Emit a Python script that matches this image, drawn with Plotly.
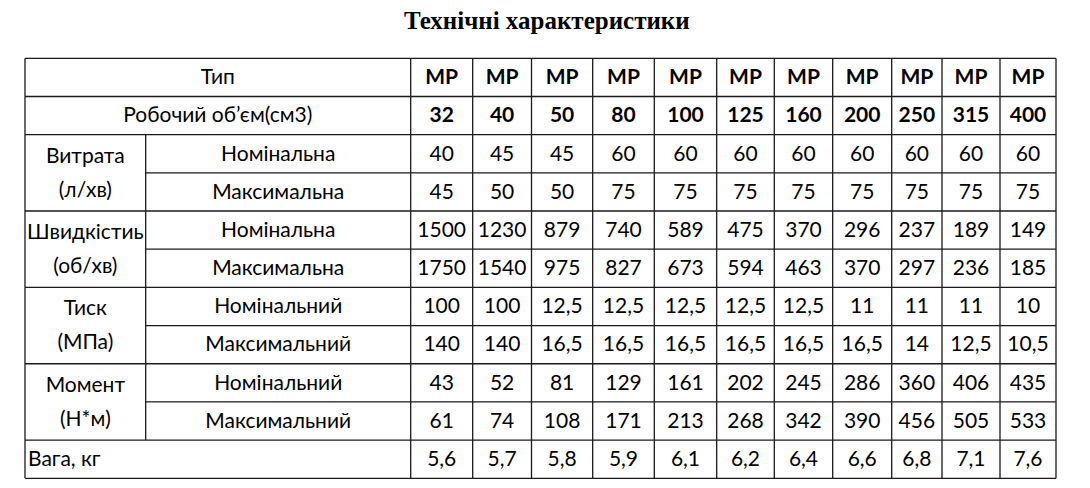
import plotly.graph_objects as go

# Table data

TITLE = "Технічні характеристики"

model_types = ["MP"] * 11
volumes = [32, 40, 50, 80, 100, 125, 160, 200, 250, 315, 400]

flow_nom = [40, 45, 45, 60, 60, 60, 60, 60, 60, 60, 60]
flow_max = [45, 50, 50, 75, 75, 75, 75, 75, 75, 75, 75]

speed_nom = [1500, 1230, 879, 740, 589, 475, 370, 296, 237, 189, 149]
speed_max = [1750, 1540, 975, 827, 673, 594, 463, 370, 297, 236, 185]

pressure_nom = [100, 100, 12.5, 12.5, 12.5, 12.5, 12.5, 11, 11, 11, 10]
pressure_max = [140, 140, 16.5, 16.5, 16.5, 16.5, 16.5, 16.5, 14, 12.5, 10.5]

torque_nom = [43, 52, 81, 129, 161, 202, 245, 286, 360, 406, 435]
torque_max = [61, 74, 108, 171, 213, 268, 342, 390, 456, 505, 533]

weight = [5.6, 5.7, 5.8, 5.9, 6.1, 6.2, 6.4, 6.6, 6.8, 7.1, 7.6]

groups = [
    ("Витрата", "(л/хв)", "Номінальна", "Максимальна", flow_nom, flow_max),
    ("Швидкістиь", "(об/хв)", "Номінальна", "Максимальна", speed_nom, speed_max),
    ("Тиск", "(МПа)", "Номінальний", "Максимальний", pressure_nom, pressure_max),
    ("Момент", "(Н*м)", "Номінальний", "Максимальний", torque_nom, torque_max),
]

# Layout of the grid (pixel coords of the 1090x488 page)

PAGE_W, PAGE_H = 1090, 488
BODY_MARGIN = 8  # default html body margin, figure starts at (8, 8)
col_edges = [25, 145.7, 410.7, 472.7, 531.5, 592.7, 654.3, 716.7,
             774.3, 832.7, 891.7, 942, 1000, 1056]
TOP = 58.3
ROW_H = 38.18
N_ROWS = 11
row_edges = [TOP + i * ROW_H for i in range(N_ROWS + 1)]

FONT = "Lato"
FONT_SIZE = 21
TEXT_NUDGE = 1.5  # text sits a touch low in the source cells
LINE_COLOR = "#1a1a1a"


def fmt(v):
    # decimal comma like the source document
    s = f"{v:g}"
    return s.replace(".", ",")


def row_mid(r):
    return (row_edges[r] + row_edges[r + 1]) / 2 + TEXT_NUDGE


def col_mid(c):
    return (col_edges[c] + col_edges[c + 1]) / 2


data_cols = list(range(2, 2 + len(volumes)))

reg_x, reg_y, reg_t = [], [], []
bold_x, bold_y, bold_t = [], [], []

# header rows
label_mid = (col_edges[0] + col_edges[2]) / 2
reg_x += [label_mid, label_mid]
reg_y += [row_mid(0), row_mid(1)]
reg_t += ["Тип", "Робочий об’єм(см3)"]
for c, t, v in zip(data_cols, model_types, volumes):
    bold_x += [col_mid(c), col_mid(c)]
    bold_y += [row_mid(0), row_mid(1)]
    bold_t += [t, str(v)]

# grouped rows
for g, (name, unit, sub1, sub2, vals1, vals2) in enumerate(groups):
    r1 = 2 + 2 * g
    r2 = r1 + 1
    reg_x += [col_mid(0), col_mid(0), col_mid(1), col_mid(1)]
    reg_y += [row_mid(r1) + 2, row_mid(r2) - 2, row_mid(r1), row_mid(r2)]
    reg_t += [name, unit, sub1, sub2]
    for c, a, b in zip(data_cols, vals1, vals2):
        reg_x += [col_mid(c), col_mid(c)]
        reg_y += [row_mid(r1), row_mid(r2)]
        reg_t += [fmt(a), fmt(b)]

# weight row
for c, v in zip(data_cols, weight):
    reg_x.append(col_mid(c))
    reg_y.append(row_mid(10))
    reg_t.append(fmt(v))

fig = go.Figure()

fig.add_trace(go.Scatter(
    x=reg_x, y=reg_y, text=reg_t, mode="text",
    textposition="middle center",
    textfont=dict(family=FONT, size=FONT_SIZE, color="black"),
    hoverinfo="skip", showlegend=False
))
fig.add_trace(go.Scatter(
    x=bold_x, y=bold_y, text=bold_t, mode="text",
    textposition="middle center",
    textfont=dict(family=FONT, size=FONT_SIZE, color="black", weight="bold"),
    hoverinfo="skip", showlegend=False
))
fig.add_trace(go.Scatter(
    x=[col_edges[0] + 3], y=[row_mid(10)], text=["Вага, кг"], mode="text",
    textposition="middle right",
    textfont=dict(family=FONT, size=FONT_SIZE, color="black"),
    hoverinfo="skip", showlegend=False
))

# grid lines
shapes = []


def hline(y, x0, x1):
    shapes.append(dict(type="line", xref="x", yref="y", x0=x0, x1=x1, y0=y, y1=y,
                       line=dict(color=LINE_COLOR, width=1.3)))


def vline(x, y0, y1):
    shapes.append(dict(type="line", xref="x", yref="y", x0=x, x1=x, y0=y0, y1=y1,
                       line=dict(color=LINE_COLOR, width=1.3)))


for i, y in enumerate(row_edges):
    if i in (3, 5, 7, 9):
        hline(y, col_edges[1], col_edges[-1])
    else:
        hline(y, col_edges[0], col_edges[-1])

vline(col_edges[0], row_edges[0], row_edges[-1])
vline(col_edges[1], row_edges[2], row_edges[10])
for x in col_edges[2:]:
    vline(x, row_edges[0], row_edges[-1])

fig.update_layout(
    width=PAGE_W - BODY_MARGIN, height=PAGE_H - 2 * BODY_MARGIN,
    margin=dict(l=0, r=0, t=0, b=0),
    paper_bgcolor="white", plot_bgcolor="white",
    shapes=shapes,
    xaxis=dict(range=[BODY_MARGIN, PAGE_W], visible=False, fixedrange=True),
    yaxis=dict(range=[PAGE_H - BODY_MARGIN, BODY_MARGIN], visible=False, fixedrange=True),
    annotations=[dict(
        text="<b>" + TITLE + "</b>", x=547, y=20, xref="x", yref="y",
        showarrow=False, xanchor="center", yanchor="middle",
        font=dict(family="Liberation Serif", size=25, color="black")
    )]
)

fig.write_html("out.html", config={"displayModeBar": False})
